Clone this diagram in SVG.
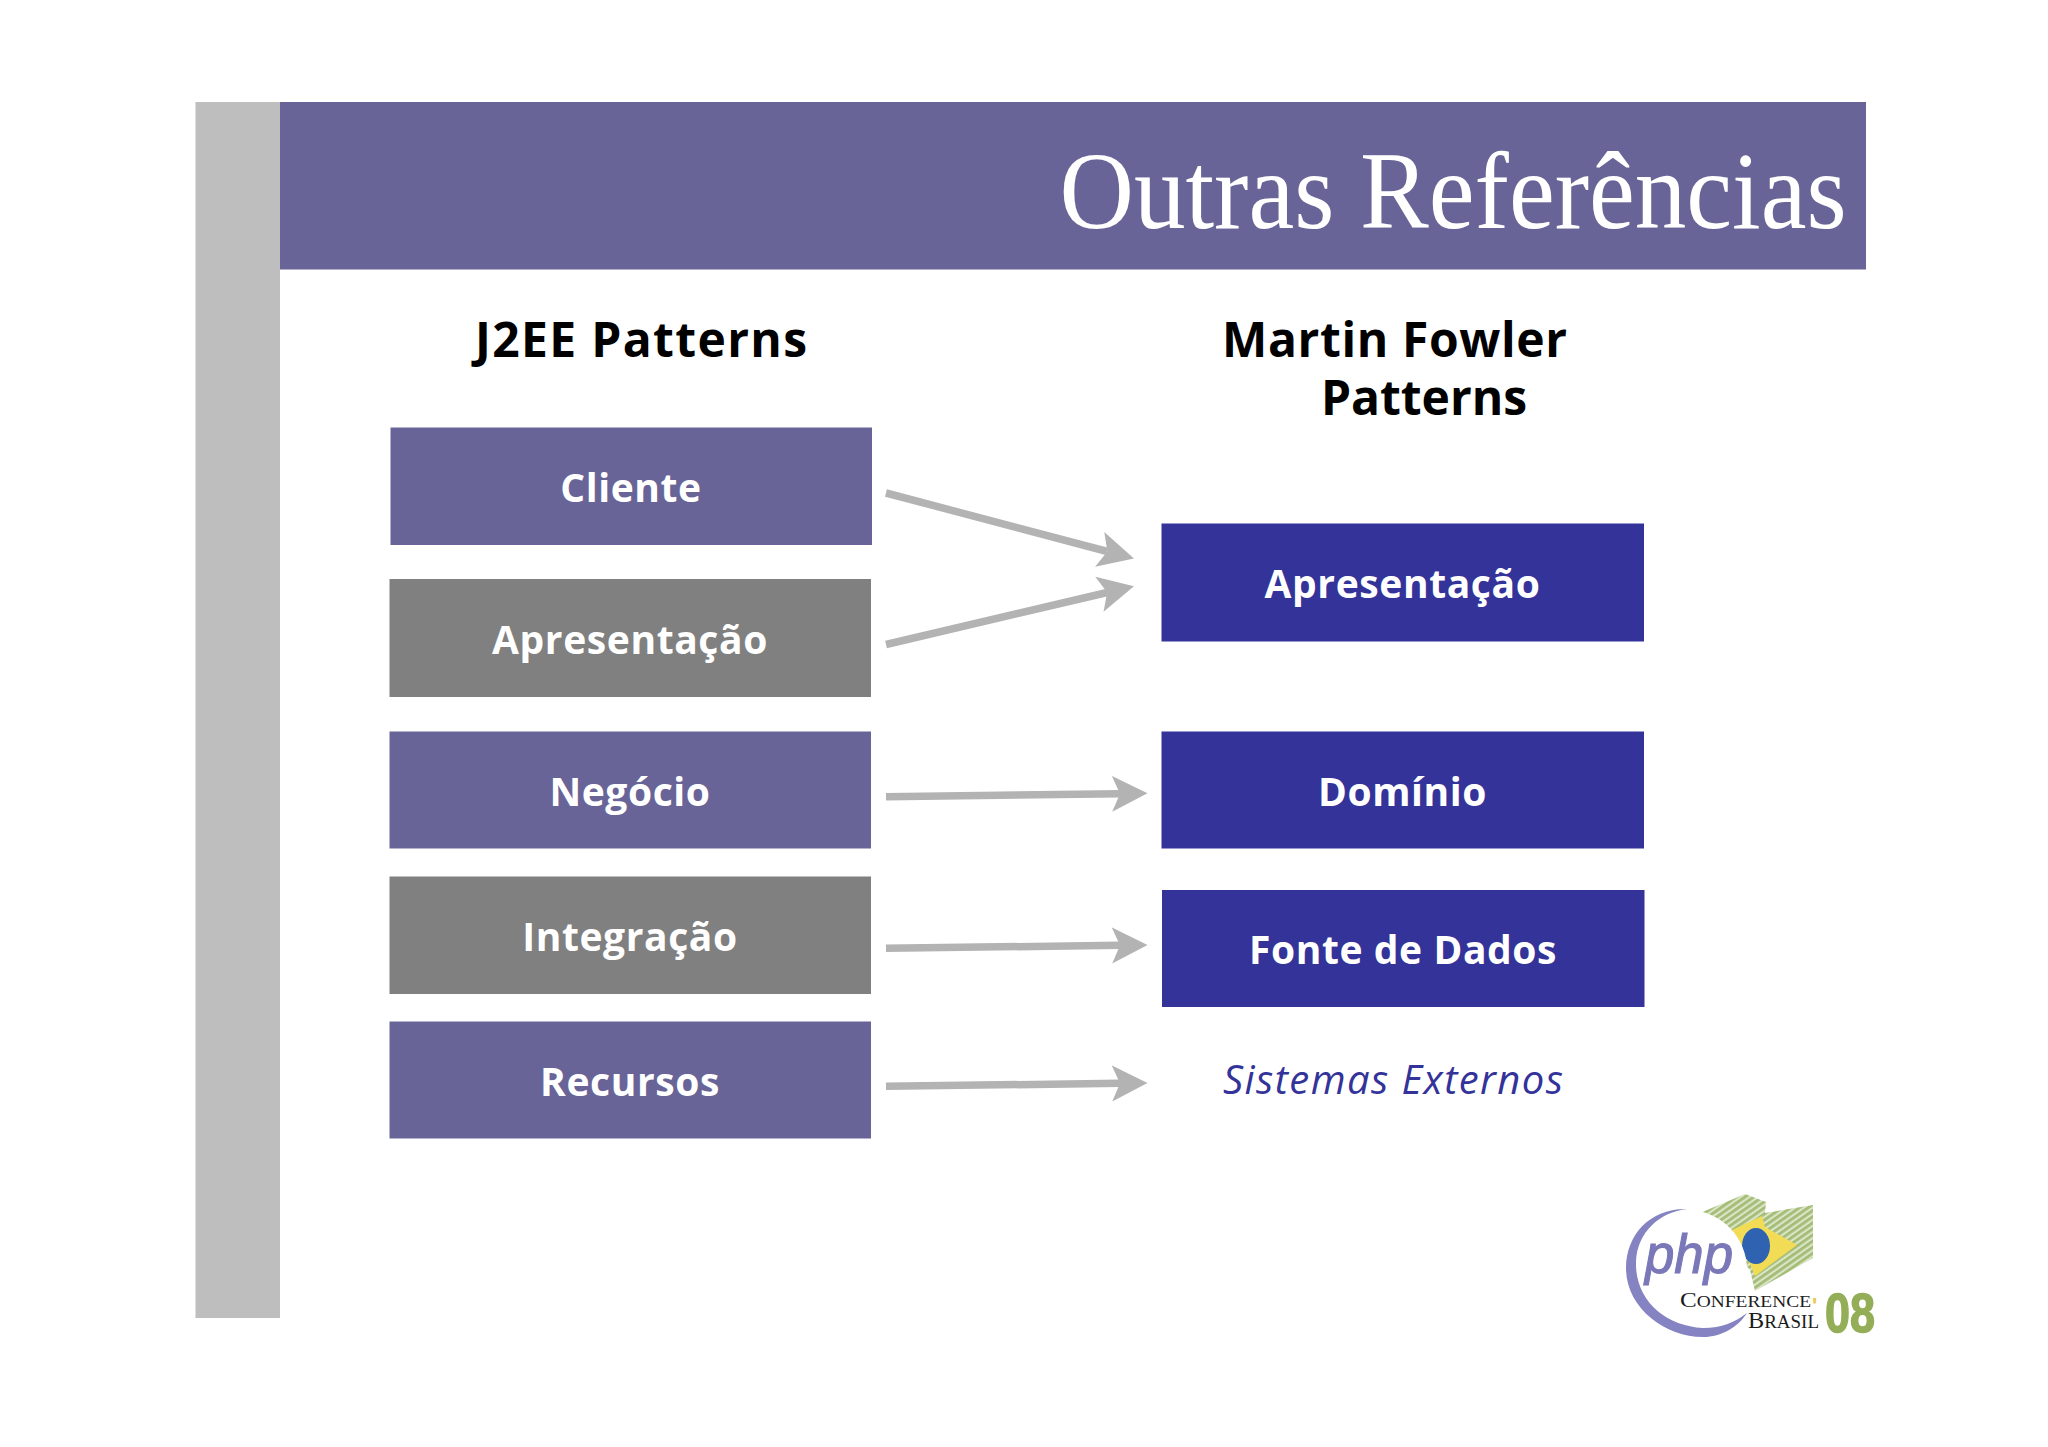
<svg xmlns="http://www.w3.org/2000/svg" width="2048" height="1447" viewBox="0 0 2048 1447">
<style>
.h{font-family:"Open Sans","DejaVu Sans",sans-serif;font-weight:700;font-size:48px;fill:#000}
.l{font-family:"Open Sans","DejaVu Sans",sans-serif;font-weight:700;font-size:39px;letter-spacing:.6px;fill:#fff;text-anchor:middle}
.p{fill:#686497}.g{fill:#808080}.b{fill:#333399}
.c{stroke:#b3b3b3;stroke-width:7.500;fill:none;marker-end:url(#ah)}
.s{font-family:"Liberation Serif",serif;fill:#1c1c1c}
</style>
<defs>
<marker id="ah" markerUnits="userSpaceOnUse" viewBox="0 0 36 38" refX="8" refY="19" markerWidth="36" markerHeight="38" orient="auto">
<path d="M0 1 L35.500 19 L0 37 L8 19 Z" fill="#b3b3b3"/>
</marker>
<pattern id="hatch" patternUnits="userSpaceOnUse" width="5" height="5" patternTransform="rotate(-35)">
<rect width="5" height="5" fill="#dbe5c6"/><rect width="5" height="2.800" fill="#a3bc76"/>
</pattern>
</defs>
<rect width="2048" height="1447" fill="#fff"/>
<rect x="195.500" y="102" width="84.500" height="1216" fill="#bebebe"/>
<g id="header">
<rect class="p" x="280" y="102" width="1586" height="167.500"/>
<text x="1059.500" y="228" font-family="Liberation Serif, serif" font-size="110" fill="#fff" textLength="787" lengthAdjust="spacingAndGlyphs">Outras Referências</text>
</g>
<g id="title-j2ee"><text class="h" x="475" y="357" textLength="332">J2EE Patterns</text></g>
<g id="title-fowler"><text class="h" x="1222" y="357" textLength="345">Martin Fowler</text><text class="h" x="1321" y="415" textLength="206">Patterns</text></g>
<g id="n-cliente"><rect class="p" x="390.500" y="427.500" width="481.500" height="117.500"/><text class="l" x="631" y="502">Cliente</text></g>
<g id="n-apresentacao-l"><rect class="g" x="389.500" y="579" width="481.500" height="118"/><text class="l" x="630" y="654">Apresentação</text></g>
<g id="n-negocio"><rect class="p" x="389.500" y="731.500" width="481.500" height="117"/><text class="l" x="630" y="805.500">Negócio</text></g>
<g id="n-integracao"><rect class="g" x="389.500" y="876.500" width="481.500" height="117.500"/><text class="l" x="630" y="951">Integração</text></g>
<g id="n-recursos"><rect class="p" x="389.500" y="1021.500" width="481.500" height="117"/><text class="l" x="630" y="1095.500">Recursos</text></g>
<g id="n-apresentacao-r"><rect class="b" x="1161.500" y="523.500" width="482.500" height="118"/><text class="l" x="1402.500" y="598">Apresentação</text></g>
<g id="n-dominio"><rect class="b" x="1161.500" y="731.500" width="482.500" height="117"/><text class="l" x="1402.500" y="805.500">Domínio</text></g>
<g id="n-fonte"><rect class="b" x="1162" y="890" width="482.500" height="117"/><text class="l" x="1403" y="963.500">Fonte de Dados</text></g>
<g id="n-sistemas"><text x="1223" y="1094" font-family="Open Sans, sans-serif" font-style="italic" font-size="40" fill="#333399" textLength="340">Sistemas Externos</text></g>
<g id="connectors">
<line class="c" x1="886" y1="493" x2="1107.400" y2="551.500"/>
<line class="c" x1="886" y1="644.500" x2="1107.200" y2="592.500"/>
<line class="c" x1="886" y1="796.700" x2="1120" y2="793.700"/>
<line class="c" x1="886" y1="948.300" x2="1120" y2="945.300"/>
<line class="c" x1="886" y1="1086.300" x2="1120" y2="1083.300"/>
</g>
<g id="logo">
<path d="M1700 1213 L1745 1194 L1766 1202 L1765 1213 L1813 1205 L1813 1258 L1755 1291 L1750 1270 Z" fill="url(#hatch)"/>
<path d="M1732 1230 L1762 1216 L1765 1227 L1797 1245 L1755 1276 L1744 1250 Z" fill="#f3dc55"/>
<ellipse cx="1756" cy="1246" rx="14" ry="18" fill="#2f62b0"/>
<circle cx="1687" cy="1270" r="60" fill="#fff"/>
<path d="M1687 1209 C1650 1208 1626 1235 1626 1268 C1626 1308 1665 1337 1703 1337 C1722 1337 1738 1327 1747 1313 C1735 1322 1722 1328 1703 1328 C1665 1326 1635 1300 1636 1262 C1637 1232 1660 1212 1687 1209 Z" fill="#8583c2"/>
<text x="1645" y="1273" font-family="Liberation Sans, sans-serif" font-style="italic" font-size="56" fill="#7a78b8" stroke="#7a78b8" stroke-width="1.200" textLength="88" lengthAdjust="spacingAndGlyphs">php</text>
<text class="s" x="1680" y="1307" font-size="22" textLength="131" lengthAdjust="spacingAndGlyphs">C<tspan font-size="17">ONFERENCE</tspan></text>
<text x="1812" y="1313" font-family="Liberation Sans, sans-serif" font-weight="700" font-size="22" fill="#e8c850">'</text>
<text class="s" x="1748" y="1328" font-size="23" textLength="71" lengthAdjust="spacingAndGlyphs">B<tspan font-size="18">RASIL</tspan></text>
<text x="1825" y="1332" font-family="Liberation Sans, sans-serif" font-weight="700" font-size="56" fill="#94ae58" stroke="#94ae58" stroke-width="1.500" textLength="50" lengthAdjust="spacingAndGlyphs">08</text>
</g>
</svg>
